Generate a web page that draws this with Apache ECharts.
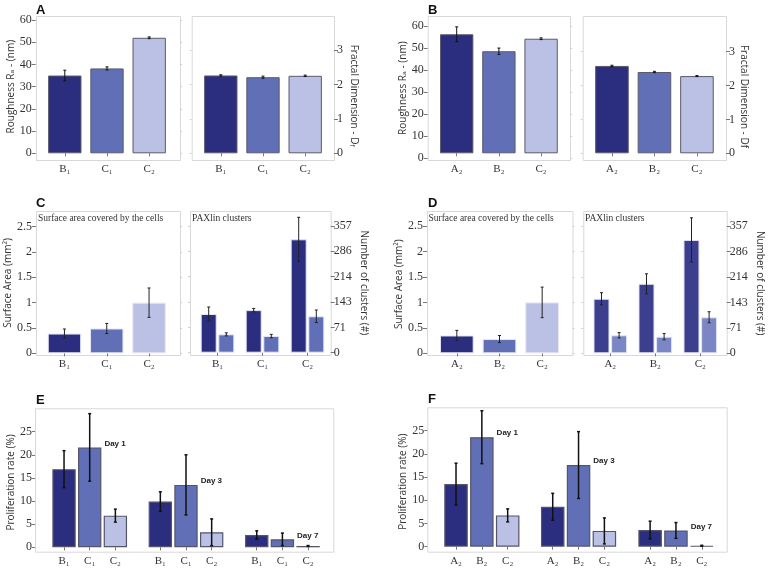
<!DOCTYPE html>
<html><head><meta charset="utf-8">
<script src="https://cdn.jsdelivr.net/npm/echarts@6/dist/echarts.min.js"></script>
<style>html,body{margin:0;padding:0;background:#fff}#chart{width:769px;height:570px}</style>
</head><body><div id="chart"></div>
<script>
// ---------------- data ----------------
const catsA = ['B₁', 'C₁', 'C₂'];
const catsB = ['A₂', 'B₂', 'C₂'];
const dayLabels = ['Day 1', 'Day 3', 'Day 7'];

const roughA = [35.0, 38.2, 52.0];
const roughAErr = [2.4, 0.7, 0.4];
const fractalA = [2.26, 2.21, 2.25];
const fractalAErr = [0.02, 0.03, 0.02];

const roughB = [56.1, 48.1, 54.0];
const roughBErr = [3.5, 1.5, 0.4];
const fractalB = [2.58, 2.40, 2.28];
const fractalBErr = [0.02, 0.02, 0.015];

const areaC = [0.39, 0.49, 1.00];
const areaCErr = [0.09, 0.10, 0.29];
const paxDarkC = [109, 120, 319.5];
const paxDarkCErr = [19.7, 4.7, 62];
const paxLightC = [51.7, 47, 102.6];
const paxLightCErr = [4.3, 4.7, 17.7];

const areaD = [0.35, 0.28, 1.00];
const areaDErr = [0.10, 0.07, 0.30];
const paxDarkD = [153, 195, 318];
const paxDarkDErr = [17, 28, 62];
const paxLightD = [50.5, 46.6, 101];
const paxLightDErr = [7.5, 9, 15.5];

const clusterTicks = [0, 71, 143, 214, 286, 357];

const profE1 = [16.9, 21.6, 6.85], profE1Err = [4.0, 7.3, 1.4];
const profE3 = [9.9, 13.5, 3.25], profE3Err = [2.1, 6.5, 2.9];
const profE7 = [2.66, 1.73, 0.28], profE7Err = [0.9, 1.35, 0.1];

const profF1 = [13.5, 23.6, 6.75], profF1Err = [4.5, 5.7, 1.4];
const profF3 = [8.6, 17.6, 3.4], profF3Err = [2.9, 7.2, 2.8];
const profF7 = [3.6, 3.5, 0.2], profF7Err = [1.9, 1.7, 0.1];

// ---------------- styles ----------------
const SERIF = '"Liberation Serif", "DejaVu Serif", serif';
const SANS = '"Open Sans", "DejaVu Sans", sans-serif';
const C_DARK = '#2b2e7e', C_MID = '#6170b6', C_LIGHT = '#bac1e5';
const C_DDARK = '#3b3f8e', C_DLIGHT = '#7b87c5';
const TRIO = [C_DARK, C_MID, C_LIGHT];
const FRAME = '#d8d8d8';

const grids = [], xAxes = [], yAxes = [], series = [], graphics = [];
function addGrid(g) { grids.push(g); return grids.length - 1; }

function catX(gi, cats, offset, show = true) {
  xAxes.push({
    type: 'category', gridIndex: gi, data: cats, offset: offset, show: show,
    axisLine: { show: false },
    axisTick: { show: true, alignWithLabel: true, length: 3, lineStyle: { color: '#777' } },
    axisLabel: { fontFamily: SERIF, fontSize: 11, color: '#333', margin: 4 },
    splitLine: { show: false }
  });
  return xAxes.length - 1;
}
function valY(gi, min, max, interval, pos, offset, extra) {
  yAxes.push(Object.assign({
    type: 'value', gridIndex: gi, min: min, max: max, interval: interval, position: pos, offset: offset,
    axisLine: { show: false },
    axisTick: { show: true, length: 4, lineStyle: { color: '#777' } },
    axisLabel: { fontFamily: SERIF, fontSize: 12, color: '#333', margin: pos === 'left' ? 4 : 3 },
    splitLine: { show: false },
    nameLocation: 'middle'
  }, extra || {}));
  return yAxes.length - 1;
}
function faintY(gi, min, max, interval, pos, offset) {
  yAxes.push({
    type: 'value', gridIndex: gi, min: min, max: max, interval: interval, position: pos, offset: offset,
    axisLine: { show: false }, axisLabel: { show: false }, splitLine: { show: false },
    axisTick: { show: true, length: 2, lineStyle: { color: '#d0d0d0' } }
  });
}
function nameStyle(padding, rich) {
  const s = { fontFamily: SANS, fontSize: 10, color: '#333', padding: padding };
  if (rich) s.rich = rich;
  return s;
}
function bars(xi, yi, vals, colors, width, border, extra) {
  series.push(Object.assign({
    type: 'bar', xAxisIndex: xi, yAxisIndex: yi, barWidth: width, silent: true,
    itemStyle: { borderColor: border, borderWidth: 1 },
    data: vals.map((v, i) => ({ value: v, itemStyle: { color: colors[i] } }))
  }, extra || {}));
}
function errBars(xi, yi, vals, errs, shiftFrac, color, lw) {
  series.push({
    type: 'custom', xAxisIndex: xi, yAxisIndex: yi, z: 10, silent: true,
    encode: { x: 0, y: [1, 2] },
    data: vals.map((v, i) => [i, v - errs[i], v + errs[i]]),
    renderItem: function (params, api) {
      const idx = api.value(0);
      const lo = api.coord([idx, api.value(1)]);
      const hi = api.coord([idx, api.value(2)]);
      const band = api.size([1, 0])[0];
      const cx = lo[0] + shiftFrac * band;
      const cap = 1.5;
      const st = { stroke: color, lineWidth: lw };
      return {
        type: 'group', children: [
          { type: 'line', shape: { x1: cx, y1: lo[1], x2: cx, y2: hi[1] }, style: st },
          { type: 'line', shape: { x1: cx - cap, y1: lo[1], x2: cx + cap, y2: lo[1] }, style: st },
          { type: 'line', shape: { x1: cx - cap, y1: hi[1], x2: cx + cap, y2: hi[1] }, style: st }
        ]
      };
    }
  });
}
function frame(x, y, w, h) {
  graphics.push({ type: 'rect', z: 0, silent: true, shape: { x: x + 0.5, y: y + 0.5, width: w, height: h },
    style: { fill: 'none', stroke: FRAME, lineWidth: 1 } });
}
function letter(t, x, y) {
  graphics.push({ type: 'text', x: x, y: y, silent: true,
    style: { text: t, font: 'bold 13px "Liberation Sans", Arial, sans-serif', fill: '#111' } });
}
function note(t, x, y) {
  graphics.push({ type: 'text', x: x, y: y, silent: true,
    style: { text: t, font: '9.5px ' + SERIF, fill: '#333' } });
}
const fractalRich = { a: { fontFamily: SANS, fontSize: 10, color: '#333' }, b: { fontFamily: SANS, fontSize: 6.5, color: '#333', padding: [5, 0, 0, 0] } };

// ---------------- Panel A ----------------
frame(36, 16, 144, 144); frame(191.7, 16, 142.3, 144); letter('A', 36, 4);
let g = addGrid({ left: 43.7, top: 20, width: 126.6, height: 133.3 });
let xi = catX(g, catsA, 6.7);
let yi = valY(g, 0, 60, 10, 'left', 8, { name: 'Roughness Rₐ - (nm)', nameGap: 20, nameTextStyle: nameStyle([0, 0, 0, 0]) });
faintY(g, 0, 60, 10, 'right', 9.7);
bars(xi, yi, roughA, TRIO, '79%', '#5a5a6a');
errBars(xi, yi, roughA, roughAErr, 0, '#111', 1);

g = addGrid({ left: 199.7, top: 50, width: 126.6, height: 103.3 });
xi = catX(g, catsA, 6.7);
yi = valY(g, 0, 3, 1, 'right', 7.7, { name: '{a|Fractal Dimension - D}{b|f}', nameRotate: -90, nameGap: 14, nameTextStyle: nameStyle([0, 12, 0, 0], fractalRich) });
faintY(g, 0, 3, 1, 'left', 8);
bars(xi, yi, fractalA, TRIO, '79%', '#5a5a6a');
errBars(xi, yi, fractalA, fractalAErr, 0, '#111', 1);

// ---------------- Panel B ----------------
frame(427.7, 16, 142.3, 144); frame(582.7, 16, 143.3, 144); letter('B', 428, 4);
g = addGrid({ left: 435.6, top: 26, width: 126.6, height: 127.3 });
xi = catX(g, catsB, 6.7);
yi = valY(g, 0, 60, 10, 'left', 0, { show: false });
bars(xi, yi, roughB, TRIO, '79%', '#5a5a6a');
errBars(xi, yi, roughB, roughBErr, 0, '#111', 1);
let g2 = addGrid({ left: 435.6, top: 26, width: 126.6, height: 132.3 });
catX(g2, catsB, 0, false);
valY(g2, 0, 60, 10, 'left', 7.9, { name: 'Roughness Rₐ - (nm)', nameGap: 20, nameTextStyle: nameStyle([0, 0, 0, 8]) });
faintY(g2, 0, 60, 10, 'right', 7.8);

g = addGrid({ left: 590.7, top: 51.7, width: 127.5, height: 101.6 });
xi = catX(g, catsB, 6.7);
yi = valY(g, 0, 3, 1, 'right', 7.8, { name: 'Fractal Dimension - Df', nameRotate: -90, nameGap: 13, nameTextStyle: nameStyle([0, 12, 0, 0]) });
faintY(g, 0, 3, 1, 'left', 8);
bars(xi, yi, fractalB, TRIO, '79%', '#5a5a6a');
errBars(xi, yi, fractalB, fractalBErr, 0, '#111', 1);

// ---------------- Panel C ----------------
frame(36, 211, 144, 144); frame(190, 211, 140.7, 144); letter('C', 36, 197);
note('Surface area covered by the cells', 38, 213);
note('PAXlin clusters', 192, 213);
g = addGrid({ left: 43.3, top: 226.7, width: 126.9, height: 126.6 });
xi = catX(g, catsA, 1.7);
yi = valY(g, 0, 2.5, 0.5, 'left', 7.3, { name: 'Surface Area (mm²)', nameGap: 20, nameTextStyle: nameStyle([0, 0, 0, 14]) });
faintY(g, 0, 2.5, 0.5, 'right', 9.8);
bars(xi, yi, areaC, TRIO, '79%', '#e4e6f4');
errBars(xi, yi, areaC, areaCErr, 0, '#222', 1);

const clusterAxis = (pad) => ({
  name: 'Number of clusters (#)', nameRotate: -90, nameGap: 28, nameTextStyle: nameStyle(pad),
  axisLabel: { fontFamily: SERIF, fontSize: 12, color: '#333', margin: 3, formatter: (v, i) => String(clusterTicks[i] ?? Math.round(v)) }
});
g = addGrid({ left: 195, top: 226, width: 135, height: 126.7 });
xi = catX(g, catsA, 2.3);
yi = valY(g, 0, 357, 71.4, 'right', 0.7, clusterAxis([0, 13, 0, 0]));
faintY(g, 0, 357, 71.4, 'left', 5);
bars(xi, yi, paxDarkC, [C_DARK, C_DARK, C_DARK], '35.6%', '#e4e6f4', { barGap: '10%' });
bars(xi, yi, paxLightC, [C_MID, C_MID, C_MID], '35.6%', '#e4e6f4', { barGap: '10%' });
errBars(xi, yi, paxDarkC, paxDarkCErr, -0.55 * 0.356, '#222', 1);
errBars(xi, yi, paxLightC, paxLightCErr, 0.55 * 0.356, '#222', 1);

// ---------------- Panel D ----------------
frame(427, 211, 145.5, 144); frame(583.3, 211, 143.4, 144); letter('D', 428, 197);
note('Surface area covered by the cells', 428.5, 213);
note('PAXlin clusters', 585, 213);
g = addGrid({ left: 435.5, top: 226, width: 128, height: 127.3 });
xi = catX(g, catsB, 1.7);
yi = valY(g, 0, 2.5, 0.5, 'left', 8.5, { name: 'Surface Area (mm²)', nameGap: 21, nameTextStyle: nameStyle([0, 0, 0, 11]) });
faintY(g, 0, 2.5, 0.5, 'right', 9);
bars(xi, yi, areaD, TRIO, '79%', '#e4e6f4');
errBars(xi, yi, areaD, areaDErr, 0, '#222', 1);

g = addGrid({ left: 587.8, top: 226, width: 135, height: 127.3 });
xi = catX(g, catsB, 1.7);
yi = valY(g, 0, 357, 71.4, 'right', 3.9, clusterAxis([0, 13, 0, 0]));
faintY(g, 0, 357, 71.4, 'left', 4.5);
bars(xi, yi, paxDarkD, [C_DDARK, C_DDARK, C_DDARK], '35.6%', '#e4e6f4', { barGap: '10%' });
bars(xi, yi, paxLightD, [C_DLIGHT, C_DLIGHT, C_DLIGHT], '35.6%', '#e4e6f4', { barGap: '10%' });
errBars(xi, yi, paxDarkD, paxDarkDErr, -0.55 * 0.356, '#222', 1);
errBars(xi, yi, paxLightD, paxLightDErr, 0.55 * 0.356, '#222', 1);

// ---------------- Panels E and F ----------------
function dayBars(xi, yi, vals, dayName) {
  series.push({
    type: 'bar', xAxisIndex: xi, yAxisIndex: yi, barWidth: '91%', silent: true,
    itemStyle: { borderColor: '#55556a', borderWidth: 1.2 },
    data: vals.map((v, i) => ({
      value: v, itemStyle: { color: TRIO[i] },
      label: i === 1 ? {
        show: true, formatter: dayName, position: ['100%', 0], align: 'left', verticalAlign: 'middle',
        offset: [3, -4], fontFamily: '"Liberation Sans", Arial, sans-serif', fontWeight: 'bold', fontSize: 8, color: '#222'
      } : { show: false }
    }))
  });
}
function profPanel(cats, lefts, top, width, height, xoff, yoff, days, errs, namePad) {
  days.forEach((vals, k) => {
    const gi = addGrid({ left: lefts[k], top: top, width: width, height: height });
    const xa = catX(gi, cats, xoff);
    const ya = k === 0
      ? valY(gi, 0, 25, 5, 'left', yoff, { name: 'Proliferation rate (%)', nameGap: 19, nameTextStyle: nameStyle(namePad),
          axisTick: { show: true, length: 3, lineStyle: { color: '#777' } },
          axisLabel: { fontFamily: SERIF, fontSize: 12, color: '#333', margin: 3 } })
      : valY(gi, 0, 25, 5, 'left', 0, { show: false });
    dayBars(xa, ya, vals, dayLabels[k]);
    errBars(xa, ya, vals, errs[k], 0, '#111', 1.5);
  });
}
frame(35, 408.3, 298.3, 143.4); letter('E', 36, 394);
profPanel(catsA, [51.2, 147.5, 243.9], 431.7, 77, 115.6, 4.4, 16.2,
  [profE1, profE3, profE7], [profE1Err, profE3Err, profE7Err], [0, 0, 0, 14]);
frame(427.3, 407.3, 299.4, 144.4); letter('F', 428, 393);
profPanel(catsB, [443.1, 539.8, 637.2], 430.7, 77.5, 116, 5, 15.8,
  [profF1, profF3, profF7], [profF1Err, profF3Err, profF7Err], [0, 0, 0, 14]);

// ---------------- chart ----------------
const chart = echarts.init(document.getElementById('chart'), null, { renderer: 'canvas' });
chart.setOption({
  animation: false,
  backgroundColor: '#fff',
  grid: grids, xAxis: xAxes, yAxis: yAxes, series: series,
  graphic: graphics
});
</script></body></html>
